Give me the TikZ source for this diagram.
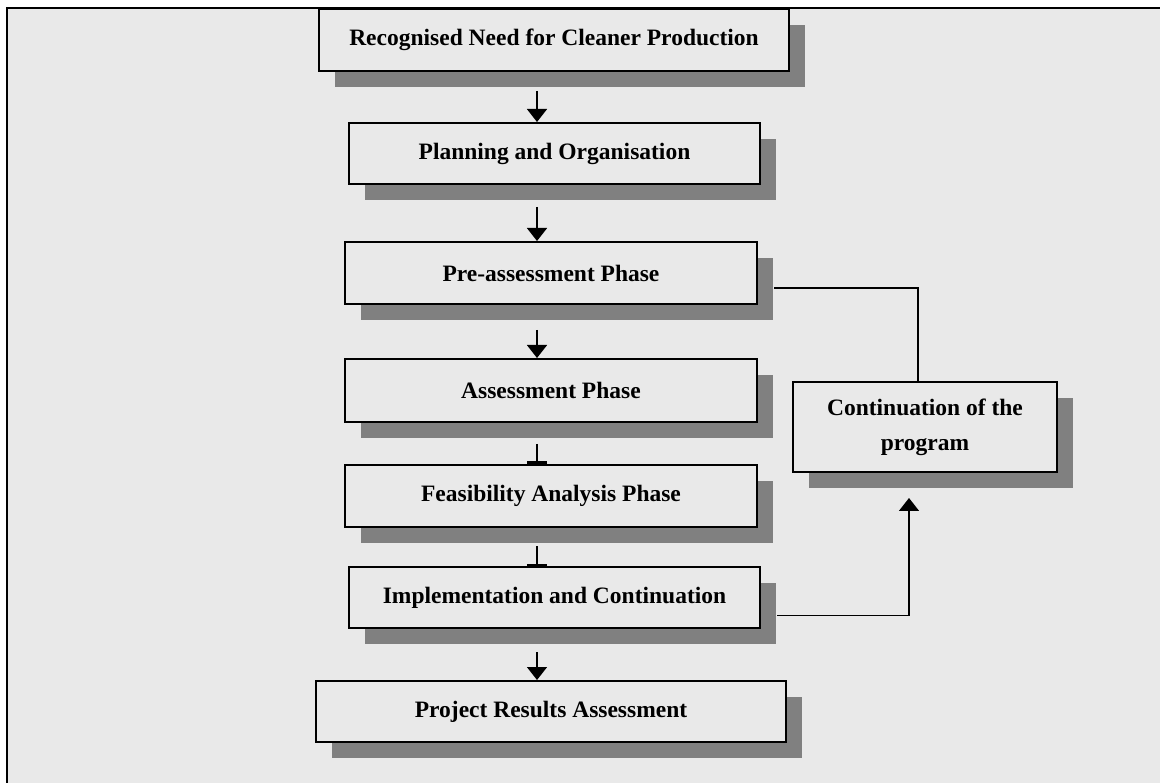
\documentclass[tikz,border=0pt]{standalone}
\usepackage{fontspec}
\setmainfont{Liberation Serif}
\usetikzlibrary{arrows.meta,shadows,calc}

\definecolor{panel}{HTML}{E9E9E9}
\definecolor{shade}{HTML}{808080}

\tikzset{
  stepbox/.style={draw=black, line width=2pt, fill=panel, inner sep=0pt,
    align=center, font=\bfseries\fontsize{23.5}{35}\selectfont,
    drop shadow={shadow xshift=16pt, shadow yshift=-16pt, fill=shade, opacity=1}},
  flow/.style={line width=1.5pt, -{Triangle[width=20pt,length=13pt]}},
  flowbar/.style={line width=1.5pt, -{Bar[width=20pt,line width=2.5pt]}},
  link/.style={line width=1.5pt},
}

\begin{document}
\begin{tikzpicture}[x=1pt, y=-1pt]
  \useasboundingbox (0,0) rectangle (1160,783);
  % panel with its top and left border
  \fill[panel] (7,8) rectangle (1160,783);
  \draw[line width=2pt] (7,783) -- (7,8) -- (1160,8);

  % main sequence of phases
  \node[stepbox, minimum width=470pt, minimum height=62pt] (b1) at (554,40)
    {Recognised Need for Cleaner Production};
  \node[stepbox, minimum width=411pt, minimum height=61pt] (b2) at (554.5,153.5)
    {Planning and Organisation};
  \node[stepbox, minimum width=412pt, minimum height=62pt] (b3) at (551,273)
    {Pre-assessment Phase};
  \node[stepbox, minimum width=412pt, minimum height=63pt] (b4) at (551,390.5)
    {Assessment Phase};
  \node[stepbox, minimum width=412pt, minimum height=62pt] (b5) at (551,496)
    {Feasibility Analysis Phase};
  \node[stepbox, minimum width=411pt, minimum height=61pt] (b6) at (554.5,597.5)
    {Implementation and Continuation};
  \node[stepbox, minimum width=470pt, minimum height=61pt] (b7) at (551,711.5)
    {Project Results Assessment};
  % feedback box
  \node[stepbox, minimum width=264pt, minimum height=90pt] (b8) at (925,427)
    {Continuation of the\\program};

  % axis of the downward arrows
  \coordinate (xa) at (537,0);

  \draw[flow]    ($(b1.south -| xa)+(0,19)$) -- (b2.north -| xa);
  \draw[flow]    ($(b2.south -| xa)+(0,22)$) -- (b3.north -| xa);
  \draw[flow]    ($(b3.south -| xa)+(0,25)$) -- (b4.north -| xa);
  \draw[flowbar] ($(b4.south -| xa)+(0,21)$) -- (b5.north -| xa);
  \draw[flowbar] ($(b5.south -| xa)+(0,18)$) -- (b6.north -| xa);
  \draw[flow]    ($(b6.south -| xa)+(0,23)$) -- (b7.north -| xa);

  % loop through the continuation box
  \draw[link] ([xshift=16pt,yshift=-15pt]b3.east) -| ([xshift=-7pt]b8.north);
  \draw[flow] ([xshift=16pt,yshift=-18pt]b6.east) -| ([xshift=-16pt,yshift=-25pt]b8.south);
\end{tikzpicture}
\end{document}
